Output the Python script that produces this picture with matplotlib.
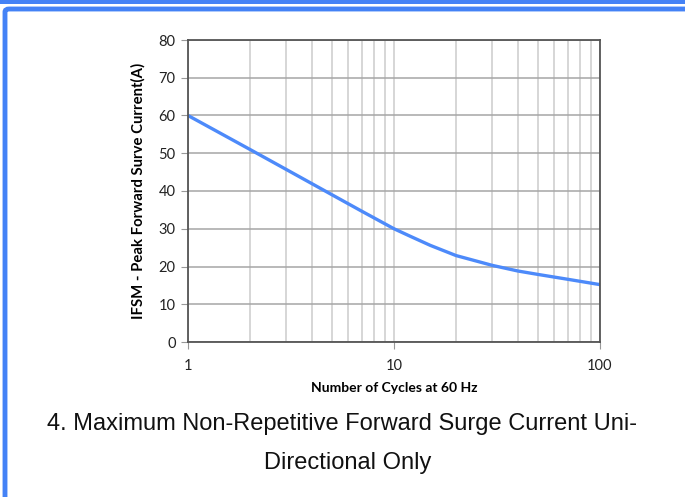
import matplotlib
matplotlib.use('Agg')
import matplotlib.pyplot as plt
from matplotlib.patches import FancyBboxPatch, Rectangle
from matplotlib.ticker import FixedLocator, NullFormatter

# Data
cycles = [1, 2, 3, 5, 7, 10, 12, 15, 20, 30, 40, 50, 70, 100]
current = [60, 51, 45.7, 39, 34.6, 30, 28.0, 25.6, 22.9, 20.3, 18.8, 17.9, 16.6, 15.2]

y_ticks = [0, 10, 20, 30, 40, 50, 60, 70, 80]
x_ticks = [1, 10, 100]
x_tick_labels = ['1', '10', '100']

W, H = 685, 497
dpi = 100
fig = plt.figure(figsize=(W / dpi, H / dpi), dpi=dpi)
fig.patch.set_facecolor('white')

# blue page frame
blue = '#4482F6'
fig.patches.append(Rectangle((0, 1 - 4 / H), 1, 4 / H, transform=fig.transFigure,
                             facecolor=blue, edgecolor='none'))
fig.patches.append(FancyBboxPatch((5 / W, -0.2), 1.2, 1 - 9 / H + 0.2,
                                  boxstyle='round,pad=0,rounding_size=0.006',
                                  transform=fig.transFigure, facecolor='none',
                                  edgecolor=blue, linewidth=3.5))

ax = fig.add_axes([188 / W, 1 - 342 / H, (600 - 188) / W, (342 - 40) / H])
ax.plot(cycles, current, color='#4D8AFA', linewidth=2.4, solid_capstyle='butt',
        solid_joinstyle='round')
ax.set_xscale('log')
ax.set_xlim(1, 100)
ax.set_ylim(0, 80)

ax.xaxis.set_major_locator(FixedLocator(x_ticks))
ax.set_xticklabels(x_tick_labels)
minors = [m * d for d in (1, 10) for m in range(2, 10)]
ax.xaxis.set_minor_locator(FixedLocator(minors))
ax.xaxis.set_minor_formatter(NullFormatter())
ax.set_yticks(y_ticks)

ax.grid(True, which='both', axis='x', color='#CBCBCB', linewidth=1.1)
ax.grid(True, which='major', axis='y', color='#A6A6A6', linewidth=1.1)
ax.set_axisbelow(True)
for s in ax.spines.values():
    s.set_color('#555555')
    s.set_linewidth(1.3)

ax.tick_params(axis='x', which='minor', length=0)
ax.tick_params(axis='both', which='major', length=5, color='#999999',
               labelsize=10.5, labelcolor='#222222')
ax.tick_params(axis='y', pad=4)
ax.tick_params(axis='x', pad=7)

ax.set_ylabel('IFSM - Peak Forward Surve Current(A)', fontsize=10.7,
              fontweight='bold', family='Lato', labelpad=9)
ax.set_xlabel('Number of Cycles at 60 Hz', fontsize=10, fontweight='bold',
              family='Lato', labelpad=7)
for lab in ax.get_xticklabels() + ax.get_yticklabels():
    lab.set_family('Lato')

fig.text(342 / W, 1 - 424 / H, '4. Maximum Non-Repetitive Forward Surge Current Uni-',
         ha='center', va='center', fontsize=17, family='Liberation Sans', color='#111111')
fig.text(348 / W, 1 - 463 / H, 'Directional Only',
         ha='center', va='center', fontsize=17, family='Liberation Sans', color='#111111')

fig.savefig('out.png', dpi=dpi, facecolor='white')
